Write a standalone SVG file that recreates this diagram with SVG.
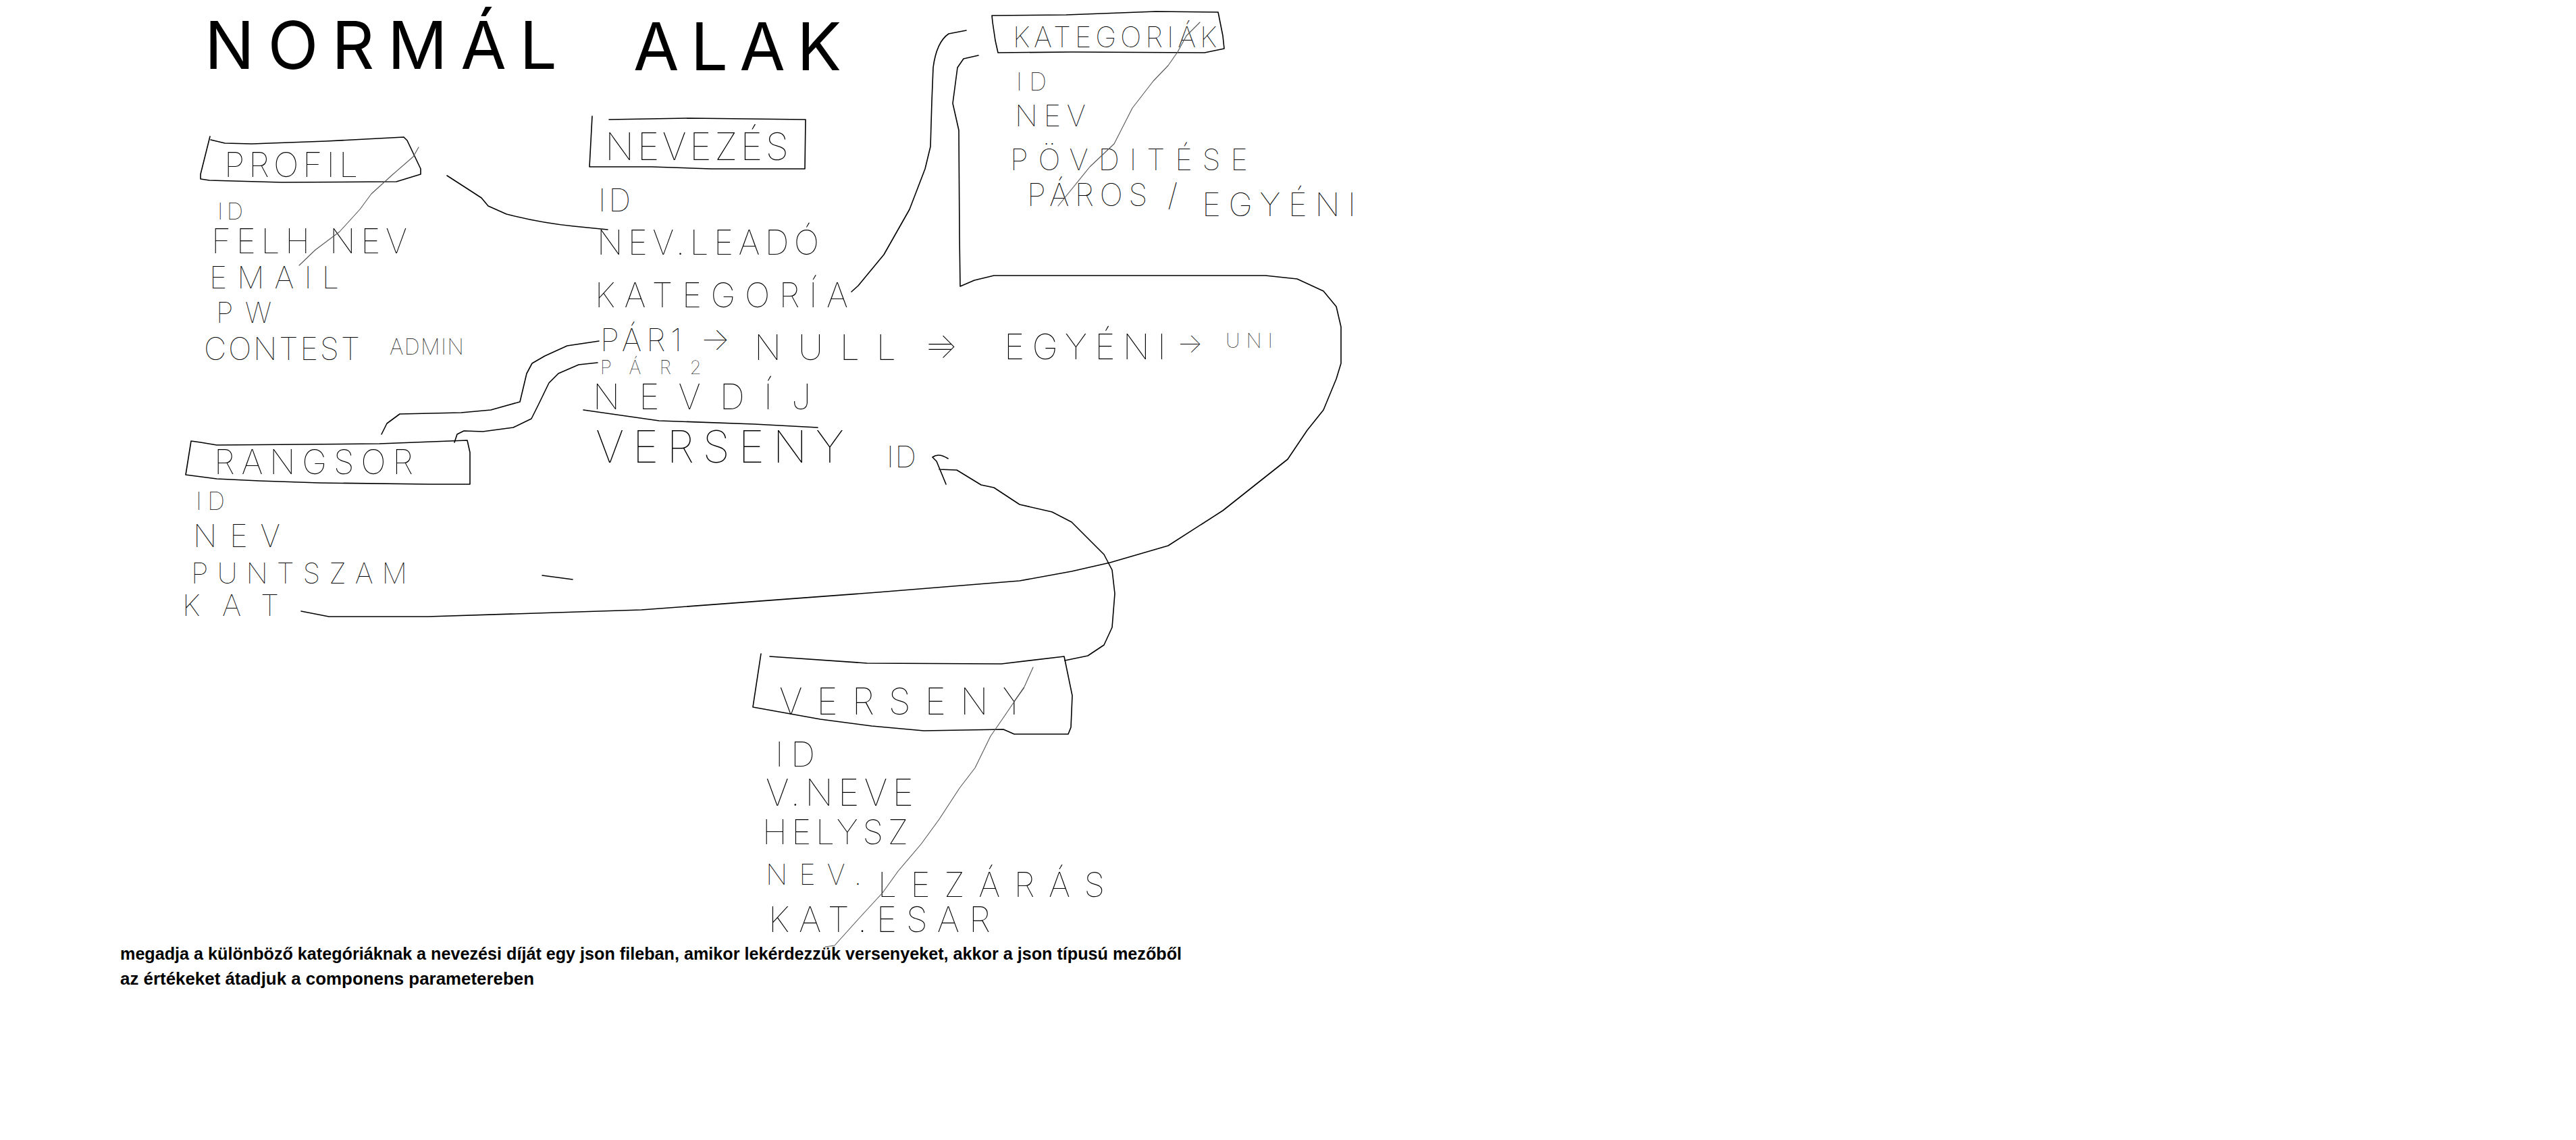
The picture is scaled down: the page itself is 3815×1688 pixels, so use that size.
<svg xmlns="http://www.w3.org/2000/svg" width="3815" height="1688" viewBox="0 0 3815 1688">
<style>
.h{font-family:Inter,Lato,Roboto,"DejaVu Sans",sans-serif;font-weight:100;fill:#000}
.t{font-weight:400}
.ln{fill:none;stroke:#000;stroke-width:1.6;stroke-linecap:round;stroke-linejoin:round}
.gr{fill:none;stroke:#555;stroke-width:1.1;stroke-linecap:round;stroke-linejoin:round}
.note{font-family:"Liberation Sans",Arial,sans-serif;font-weight:700;font-size:25px;fill:#000}
</style>
<rect width="3815" height="1688" fill="#fff"/>
<g id="title">
<text class="h t" x="303" y="102" font-size="98" textLength="522" lengthAdjust="spacing">NORMÁL</text>
<text class="h t" x="938" y="104" font-size="98" textLength="308" lengthAdjust="spacing">ALAK</text>
</g>
<g id="node-profil">
<path class="ln" d="M311,202 L297,258 L297,265 L310,267 L417,270 L587,269 L623,258 L623,250 L603,208 L598,203 L483,209 L373,213 L333,212 L312,207"/>
<text class="h" x="332" y="262" font-size="50" textLength="198" lengthAdjust="spacing">PROFIL</text>
<text class="h" x="322" y="325" font-size="34" textLength="38" lengthAdjust="spacing">ID</text>
<text class="h" x="313" y="375" font-size="50" textLength="290" lengthAdjust="spacing">FELH NEV</text>
<text class="h" x="310" y="427" font-size="45" textLength="192" lengthAdjust="spacing">EMAIL</text>
<text class="h" x="320" y="478" font-size="42" textLength="82" lengthAdjust="spacing">PW</text>
<text class="h" x="302" y="533" font-size="46" textLength="231" lengthAdjust="spacing">CONTEST</text>
<text class="h" x="577" y="525" font-size="32" textLength="110" lengthAdjust="spacing">ADMIN</text>
</g>
<g id="node-nevezes">
<path class="ln" d="M877,172 L873,247 L965,247 L1053,250 L1192,250 L1193,177 L1022,175 L902,177"/>
<text class="h" x="896" y="237" font-size="56" textLength="272" lengthAdjust="spacing">NEVEZÉS</text>
<text class="h" x="886" y="313" font-size="46" textLength="48" lengthAdjust="spacing">ID</text>
<text class="h" x="884" y="377" font-size="50" textLength="329" lengthAdjust="spacing">NEV.LEADÓ</text>
<text class="h" x="881" y="455" font-size="50" textLength="375" lengthAdjust="spacing">KATEGORÍA</text>
<text class="h" x="889" y="520" font-size="46" textLength="192" lengthAdjust="spacing">PÁR1 →</text>
<text class="h" x="1117" y="533" font-size="52" textLength="210" lengthAdjust="spacing">NULL</text>
<text class="h" x="1369" y="530" font-size="52" textLength="63" lengthAdjust="spacing">=&gt;</text>
<text class="h" x="1487" y="532" font-size="52" textLength="240" lengthAdjust="spacing">EGYÉNI</text>
<text class="h" x="1743" y="522" font-size="40" textLength="50" lengthAdjust="spacing">-&gt;</text>
<text class="h" x="1815" y="515" font-size="30" textLength="70" lengthAdjust="spacing">UNI</text>
<text class="h" x="889" y="554" font-size="28" textLength="150" lengthAdjust="spacing">PÁR2</text>
<text class="h" x="878" y="606" font-size="52" textLength="323" lengthAdjust="spacing">NEVDÍJ</text>
<text class="h" x="882" y="685" font-size="66" textLength="368" lengthAdjust="spacing">VERSENY</text>
<text class="h" x="1313" y="692" font-size="44" textLength="44" lengthAdjust="spacing">ID</text>
</g>
<g id="node-kategoriak">
<path class="ln" d="M1469,23 L1470,33 L1474,60 L1478,78 L1587,77 L1784,78 L1813,72 L1811,53 L1804,18 L1712,17 L1579,22 L1469,23"/>
<text class="h" x="1500" y="70" font-size="42" textLength="302" lengthAdjust="spacing">KATEGORIÁK</text>
<text class="h" x="1505" y="134" font-size="36" textLength="45" lengthAdjust="spacing">ID</text>
<text class="h" x="1503" y="187" font-size="44" textLength="105" lengthAdjust="spacing">NEV</text>
<text class="h" x="1496" y="252" font-size="44" textLength="352" lengthAdjust="spacing">PÖVDITÉSE</text>
<text class="h" x="1521" y="305" font-size="46" textLength="223" lengthAdjust="spacing">PÁROS /</text>
<text class="h" x="1780" y="320" font-size="48" textLength="228" lengthAdjust="spacing">EGYÉNI</text>
</g>
<g id="node-rangsor">
<path class="ln" d="M283,653 L275,703 L321,709 L384,712 L473,715 L638,717 L696,717 L696,670 L692,652 L562,657 L321,659 L297,655 L283,653"/>
<text class="h" x="317" y="702" font-size="50" textLength="295" lengthAdjust="spacing">RANGSOR</text>
<text class="h" x="290" y="755" font-size="36" textLength="43" lengthAdjust="spacing">ID</text>
<text class="h" x="286" y="810" font-size="46" textLength="129" lengthAdjust="spacing">NEV</text>
<text class="h" x="283" y="864" font-size="42" textLength="320" lengthAdjust="spacing">PUNTSZAM</text>
<text class="h" x="270" y="912" font-size="44" textLength="143" lengthAdjust="spacing">KAT</text>
</g>
<g id="node-verseny">
<path class="ln" d="M1127,968 L1115,1047 L1215,1065 L1291,1075 L1368,1082 L1486,1080 L1502,1087 L1582,1087 L1586,1077 L1588,1030 L1576,972 L1483,983 L1284,982 L1140,972"/>
<text class="h" x="1154" y="1058" font-size="54" textLength="365" lengthAdjust="spacing">VERSENY</text>
<text class="h" x="1148" y="1135" font-size="50" textLength="59" lengthAdjust="spacing">ID</text>
<text class="h" x="1134" y="1193" font-size="54" textLength="219" lengthAdjust="spacing">V.NEVE</text>
<text class="h" x="1129" y="1250" font-size="50" textLength="216" lengthAdjust="spacing">HELYSZ</text>
<text class="h" x="1134" y="1310" font-size="42" textLength="142" lengthAdjust="spacing">NEV.</text>
<text class="h" x="1300" y="1328" font-size="50" textLength="336" lengthAdjust="spacing">LEZÁRÁS</text>
<text class="h" x="1138" y="1380" font-size="52" textLength="329" lengthAdjust="spacing">KAT.ESAR</text>
</g>
<g id="connectors">
<path class="ln" d="M662,260 L693,280 L713,293 L723,305 L750,317 Q800,330 850,335 L900,340"/>
<path class="ln" d="M1261,432 L1271,423 Q1290,400 1309,377 L1347,310 L1370,250 L1378,217 L1380,150 L1382,100 Q1387,62 1405,50 L1431,45"/>
<path class="ln" d="M565,643 L573,627 L592,613 L683,611 L727,607 L770,595 L780,553 L788,538 L807,527 L840,512 L887,505"/>
<path class="ln" d="M673,655 L677,643 L687,638 L715,639 L760,633 L787,620 L797,600 L813,567 L827,553 L857,540 L885,537"/>
<path class="ln" d="M446,905 L487,913 L634,913 L950,903 L1300,877 L1510,860 L1587,846 L1644,833 L1730,808 L1811,756 L1864,714 L1907,680 L1936,637 L1960,607 L1979,561 L1986,538 L1986,484 L1979,454 L1960,431 L1921,413 L1874,408 L1472,408 L1443,415 L1422,424 L1421,350 L1420,193 L1411,153 L1418,100 L1427,87 L1449,82"/>
<path class="ln" d="M1577,978 L1611,971 L1635,955 L1647,929 L1651,879 L1647,844 L1635,821 L1587,773 L1558,758 L1510,747 L1472,722 L1453,718 L1417,696 L1391,695 M1404,679 Q1390,670 1381,677 L1387,683 L1401,717"/>
</g>
<g id="marks">
<path class="gr" d="M620,218 L612,232 L582,258 L550,287 L533,310 L503,343 L467,370 L443,393"/>
<path class="gr" d="M1777,33 L1757,53 L1744,77 L1730,97 L1708,120 L1677,160 L1650,213 L1614,247 L1567,305"/>
<path class="gr" d="M1530,988 L1517,1017 L1483,1067 L1467,1090 L1444,1137 L1421,1167 L1391,1213 L1364,1250 L1330,1290 L1307,1322 L1272,1360 L1236,1400 L1222,1402"/>
<path class="ln" d="M864,607 L976,623 L1117,628 L1211,633"/>
<path class="ln" d="M803,852 L848,858"/>
</g>
<g id="note">
<text class="note" x="178" y="1421" textLength="1572" lengthAdjust="spacingAndGlyphs">megadja a különböző kategóriáknak a nevezési díját egy json fileban, amikor lekérdezzük versenyeket, akkor a json típusú mezőből</text>
<text class="note" x="178" y="1458" textLength="613" lengthAdjust="spacingAndGlyphs">az értékeket átadjuk a componens parametereben</text>
</g>
</svg>
